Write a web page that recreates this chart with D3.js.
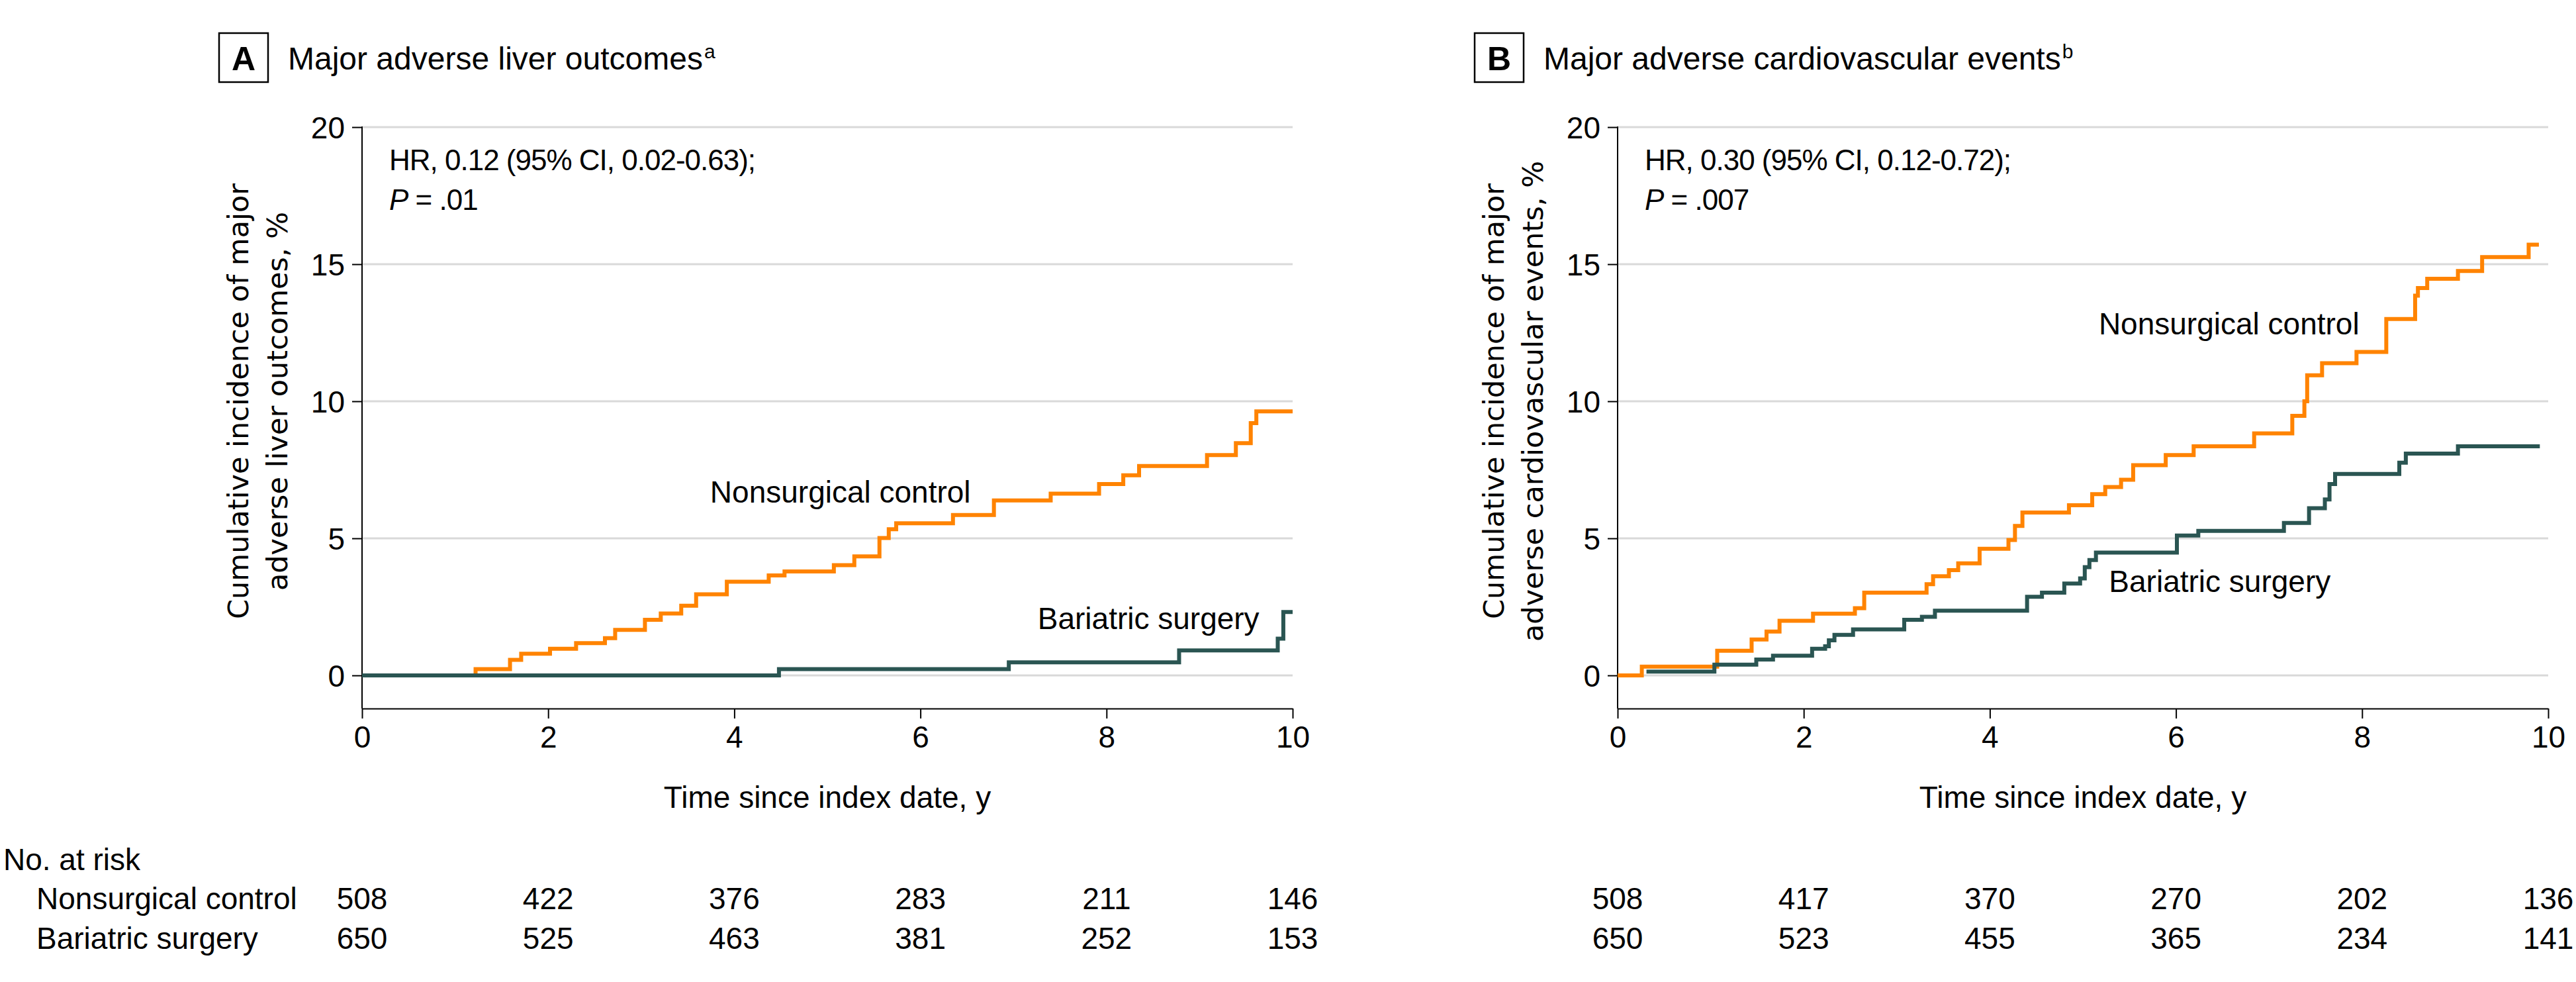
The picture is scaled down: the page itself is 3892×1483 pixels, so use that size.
<!DOCTYPE html>
<html>
<head>
<meta charset="utf-8">
<script src="https://cdn.jsdelivr.net/npm/d3@7"></script>
<style>
  html, body { margin: 0; padding: 0; background: #fff; }
  svg { display: block; }
  text { font-family: "Liberation Sans", Arial, sans-serif; fill: #000; }
</style>
</head>
<body>
<svg id="chart" width="3892" height="1483"></svg>
<script>
// ---------------- Data ----------------
const xTickYears = [0, 2, 4, 6, 8, 10];
const yTickValues = [0, 5, 10, 15, 20];
const groups = ["Nonsurgical control", "Bariatric surgery"];

// Panel A: Major adverse liver outcomes (cumulative incidence, %; step points [year, %])
const liverControl = [[0,0],[1.22,0.23],[1.59,0.57],[1.71,0.79],[2.02,0.97],[2.30,1.18],[2.61,1.36],[2.72,1.66],[3.04,2.03],[3.21,2.26],[3.43,2.54],[3.59,2.96],[3.92,3.42],[4.37,3.65],[4.54,3.79],[5.07,4.02],[5.29,4.34],[5.56,5.01],[5.66,5.33],[5.74,5.55],[6.35,5.85],[6.79,6.38],[7.40,6.63],[7.92,6.98],[8.18,7.30],[8.35,7.64],[9.08,8.04],[9.39,8.47],[9.55,9.20],[9.61,9.63],[10.0,9.63]];
const liverSurgery = [[0,0],[4.48,0.23],[6.95,0.48],[8.78,0.91],[9.84,1.34],[9.90,2.31],[10.0,2.31]];

// Panel B: Major adverse cardiovascular events
const cardioControl = [[0,0],[0.26,0.32],[1.07,0.90],[1.44,1.31],[1.60,1.60],[1.74,1.99],[2.10,2.25],[2.55,2.45],[2.65,3.02],[3.32,3.33],[3.39,3.62],[3.56,3.84],[3.66,4.09],[3.89,4.62],[4.20,4.94],[4.27,5.45],[4.35,5.94],[4.85,6.21],[5.10,6.61],[5.24,6.87],[5.41,7.14],[5.54,7.67],[5.89,8.04],[6.19,8.36],[6.84,8.83],[7.25,9.47],[7.38,10.0],[7.41,10.95],[7.57,11.39],[7.94,11.80],[8.26,13.0],[8.57,13.85],[8.60,14.13],[8.70,14.47],[9.03,14.75],[9.29,15.26],[9.79,15.71],[9.90,15.71]];
const cardioSurgery = [[0.31,0.14],[1.04,0.39],[1.49,0.58],[1.67,0.72],[2.09,0.97],[2.23,1.06],[2.27,1.28],[2.33,1.48],[2.53,1.68],[3.08,2.03],[3.27,2.14],[3.41,2.36],[4.40,2.87],[4.56,3.02],[4.80,3.35],[4.97,3.54],[5.02,3.95],[5.07,4.21],[5.14,4.48],[6.01,5.10],[6.24,5.27],[7.16,5.56],[7.43,6.10],[7.60,6.42],[7.65,6.98],[7.71,7.35],[8.40,7.76],[8.47,8.09],[9.03,8.36],[9.91,8.36]];

// Numbers at risk
const riskLiverControl = [508, 422, 376, 283, 211, 146];
const riskLiverSurgery = [650, 525, 463, 381, 252, 153];
const riskCardioControl = [508, 417, 370, 270, 202, 136];
const riskCardioSurgery = [650, 523, 455, 365, 234, 141];

// Texts
const panelLetters = ["A", "B"];
const panelTitles = ["Major adverse liver outcomes", "Major adverse cardiovascular events"];
const panelTitleNotes = ["a", "b"];
const hrTexts = ["HR, 0.12 (95% CI, 0.02-0.63);", "HR, 0.30 (95% CI, 0.12-0.72);"];
const pTexts = [" = .01", " = .007"];
const yLabelLine1 = ["Cumulative incidence of major", "Cumulative incidence of major"];
const yLabelLine2 = ["adverse liver outcomes, %", "adverse cardiovascular events, %"];
const xLabel = "Time since index date, y";

// ---------------- Style ----------------
const COLORS = { control: "#ff8300", surgery: "#2a5552" };
const FS = 46;

const svg = d3.select("#chart");
svg.append("rect").attr("width", 3892).attr("height", 1483).attr("fill", "#fff");

function drawPanel(i, left, control, surgery, riskC, riskS, labelPos) {
  const x = d3.scaleLinear().domain([0, 10]).range([left, left + 1406]);
  const y = d3.scaleLinear().domain([0, 20]).range([1020, 192]);
  const yBottom = -1.21;
  const g = svg.append("g");

  // gridlines
  g.append("g").selectAll("line").data(yTickValues).join("line")
    .attr("x1", x(0)).attr("x2", x(10))
    .attr("y1", d => y(d)).attr("y2", d => y(d))
    .attr("stroke", "#d9d9d9").attr("stroke-width", 3);

  // y axis
  const ya = g.append("g").attr("transform", `translate(${x(0)},0)`)
    .call(d3.axisLeft(y).tickValues(yTickValues).tickSize(15).tickPadding(11).tickSizeOuter(0));
  ya.select(".domain").remove();
  ya.selectAll(".tick line").attr("stroke", "#000").attr("stroke-width", 2);
  ya.selectAll(".tick text").attr("font-size", FS).attr("dy", "0.36em")
    .style("font-family", '"Liberation Sans", Arial, sans-serif');
  g.append("line").attr("x1", x(0)).attr("x2", x(0)).attr("y1", y(20) - 1).attr("y2", y(yBottom))
    .attr("stroke", "#000").attr("stroke-width", 2);

  // x axis
  const xa = g.append("g").attr("transform", `translate(0,${y(yBottom)})`)
    .call(d3.axisBottom(x).tickValues(xTickYears).tickSize(15).tickPadding(11).tickSizeOuter(0));
  xa.select(".domain").attr("stroke", "#000").attr("stroke-width", 2);
  xa.selectAll(".tick line").attr("stroke", "#000").attr("stroke-width", 2);
  xa.selectAll(".tick text").attr("font-size", FS)
    .style("font-family", '"Liberation Sans", Arial, sans-serif');

  // curves
  const line = d3.line().x(d => x(d[0])).y(d => y(d[1])).curve(d3.curveStepAfter);
  g.append("path").datum(control).attr("d", line).attr("fill", "none")
    .attr("stroke", COLORS.control).attr("stroke-width", 6).attr("stroke-linejoin", "miter");
  g.append("path").datum(surgery).attr("d", line).attr("fill", "none")
    .attr("stroke", COLORS.surgery).attr("stroke-width", 6).attr("stroke-linejoin", "miter");

  // curve labels
  g.append("text").attr("x", x(labelPos.c[0])).attr("y", y(labelPos.c[1])).attr("font-size", FS).text(groups[0]);
  g.append("text").attr("x", x(labelPos.s[0])).attr("y", y(labelPos.s[1])).attr("font-size", FS).text(groups[1]);

  // HR annotation
  g.append("text").attr("x", x(0) + 41).attr("y", 257).attr("font-size", 44)
    .attr("letter-spacing", -1).text(hrTexts[i]);
  const pt = g.append("text").attr("x", x(0) + 41).attr("y", 317).attr("font-size", 44)
    .attr("letter-spacing", -1);
  pt.append("tspan").attr("font-style", "italic").text("P");
  pt.append("tspan").text(pTexts[i]);

  // panel letter box + title
  g.append("rect").attr("x", x(0) - 216).attr("y", 50).attr("width", 74).attr("height", 74)
    .attr("fill", "none").attr("stroke", "#000").attr("stroke-width", 2.5);
  g.append("text").attr("x", x(0) - 179).attr("y", 106).attr("text-anchor", "middle")
    .attr("font-size", 50).attr("font-weight", "bold")
    .style("font-family", '"Liberation Sans Narrow", "Liberation Sans", Arial, sans-serif')
    .text(panelLetters[i]);
  const tt = g.append("text").attr("x", x(0) - 112).attr("y", 105).attr("font-size", 48);
  tt.append("tspan").text(panelTitles[i]);
  tt.append("tspan").attr("font-size", 30).attr("dy", -17).attr("dx", 2).text(panelTitleNotes[i]);

  // y axis label
  const yMid = (y(0) + y(20)) / 2;
  [[yLabelLine1[i], x(0) - 172], [yLabelLine2[i], x(0) - 113]].forEach(([t, bx]) => {
    g.append("text").attr("transform", `translate(${bx},${yMid}) rotate(-90)`)
      .attr("text-anchor", "middle").attr("font-size", 43)
      .style("font-family", '"DejaVu Sans", Verdana, sans-serif').text(t);
  });

  // x axis label
  g.append("text").attr("x", x(5)).attr("y", 1220).attr("text-anchor", "middle")
    .attr("font-size", FS).text(xLabel);

  // numbers at risk
  g.append("g").selectAll("text").data(riskC).join("text")
    .attr("x", (d, k) => x(xTickYears[k])).attr("y", 1373).attr("text-anchor", "middle")
    .attr("font-size", FS).text(d => d);
  g.append("g").selectAll("text").data(riskS).join("text")
    .attr("x", (d, k) => x(xTickYears[k])).attr("y", 1433).attr("text-anchor", "middle")
    .attr("font-size", FS).text(d => d);
}

drawPanel(0, 547, liverControl, liverSurgery, riskLiverControl, riskLiverSurgery,
  { c: [3.74, 6.3], s: [7.26, 1.69] });
drawPanel(1, 2444, cardioControl, cardioSurgery, riskCardioControl, riskCardioSurgery,
  { c: [5.17, 12.44], s: [5.28, 3.04] });

// risk table labels
svg.append("text").attr("x", 5).attr("y", 1314).attr("font-size", FS).text("No. at risk");
svg.append("text").attr("x", 55).attr("y", 1373).attr("font-size", FS).text(groups[0]);
svg.append("text").attr("x", 55).attr("y", 1433).attr("font-size", FS).text(groups[1]);
</script>
</body>
</html>
